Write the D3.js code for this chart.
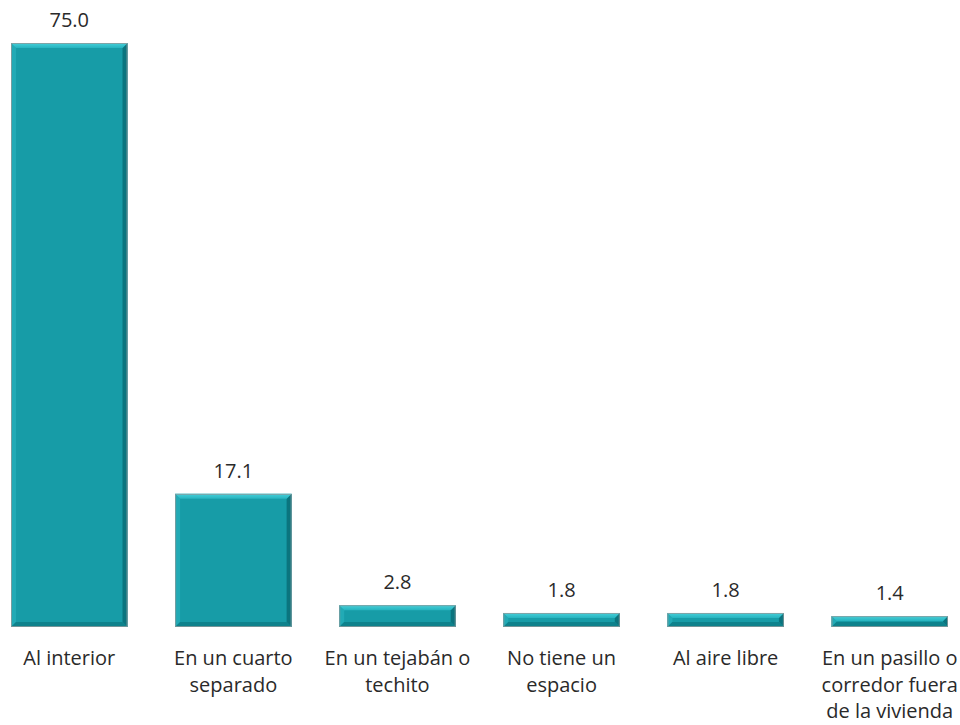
<!DOCTYPE html>
<html>
<head>
<meta charset="utf-8">
<script src="https://cdn.jsdelivr.net/npm/d3@7"></script>
<style>
  html, body { margin: 0; padding: 0; background: #ffffff; }
  svg { display: block; }
  text { font-family: "Open Sans", "Noto Sans", sans-serif; fill: #2a2a2a; }
</style>
</head>
<body>
<svg id="chart" width="960" height="725"></svg>
<script>
const categories = [
  ["Al interior"],
  ["En un cuarto", "separado"],
  ["En un tejabán o", "techito"],
  ["No tiene un", "espacio"],
  ["Al aire libre"],
  ["En un pasillo o", "corredor fuera", "de la vivienda"]
];
const values = [75.0, 17.1, 2.8, 1.8, 1.8, 1.4];
const valueLabels = ["75.0", "17.1", "2.8", "1.8", "1.8", "1.4"];

const svg = d3.select("#chart");
const ids = categories.map((c, i) => i);

const x = d3.scaleBand().domain(ids).range([11, 948]).paddingInner(0.29).paddingOuter(0);
const y = d3.scaleLinear().domain([0, 75]).range([627, 43]);

const colors = { main: "#179ca7", top: "#38c6d2", left: "#22aab5", right: "#0b747e", bottom: "#0e828c", stroke: "#8d9a9b" };

const defs = svg.append("defs");
const tg = defs.append("linearGradient").attr("id", "topGrad").attr("x1", 0).attr("y1", 0).attr("x2", 0).attr("y2", 1);
tg.append("stop").attr("offset", "0%").attr("stop-color", "#46d0da");
tg.append("stop").attr("offset", "100%").attr("stop-color", "#26b3be");

const g = svg.append("g");
values.forEach((v, i) => {
  const x0 = x(i), x1 = x(i) + x.bandwidth();
  const y0 = y(v), y1 = y(0);
  const h = y1 - y0;
  const b = Math.min(5, h / 2.2);
  const bar = g.append("g");
  bar.append("rect").attr("x", x0).attr("y", y0).attr("width", x1 - x0).attr("height", h)
    .attr("fill", colors.main);
  const poly = (pts, fill) => bar.append("polygon").attr("points", pts.map(p => p.join(",")).join(" ")).attr("fill", fill);
  poly([[x0, y0], [x0 + b, y0 + b], [x0 + b, y1 - b], [x0, y1]], colors.left);
  poly([[x1, y0], [x1, y1], [x1 - b, y1 - b], [x1 - b, y0 + b]], colors.right);
  poly([[x0, y1], [x0 + b, y1 - b], [x1 - b, y1 - b], [x1, y1]], colors.bottom);
  poly([[x0, y0], [x1, y0], [x1 - b, y0 + b], [x0 + b, y0 + b]], "url(#topGrad)");
  bar.append("rect").attr("x", x0 + 0.5).attr("y", y0 + 0.5).attr("width", x1 - x0 - 1).attr("height", h - 1)
    .attr("fill", "none").attr("stroke", colors.stroke).attr("stroke-width", 1).attr("stroke-opacity", 0.8);
});

// value labels
svg.append("g").selectAll("text").data(values).join("text")
  .attr("x", (d, i) => x(i) + x.bandwidth() / 2)
  .attr("y", d => y(d) - 16)
  .attr("text-anchor", "middle")
  .attr("font-size", 20)
  .text((d, i) => valueLabels[i]);

// category labels
const lab = svg.append("g");
categories.forEach((lines, i) => {
  const t = lab.append("text")
    .attr("x", x(i) + x.bandwidth() / 2)
    .attr("y", 665)
    .attr("text-anchor", "middle")
    .attr("font-size", 20);
  lines.forEach((ln, j) => {
    t.append("tspan").attr("x", x(i) + x.bandwidth() / 2).attr("dy", j === 0 ? 0 : 26.5).text(ln);
  });
});
</script>
</body>
</html>
